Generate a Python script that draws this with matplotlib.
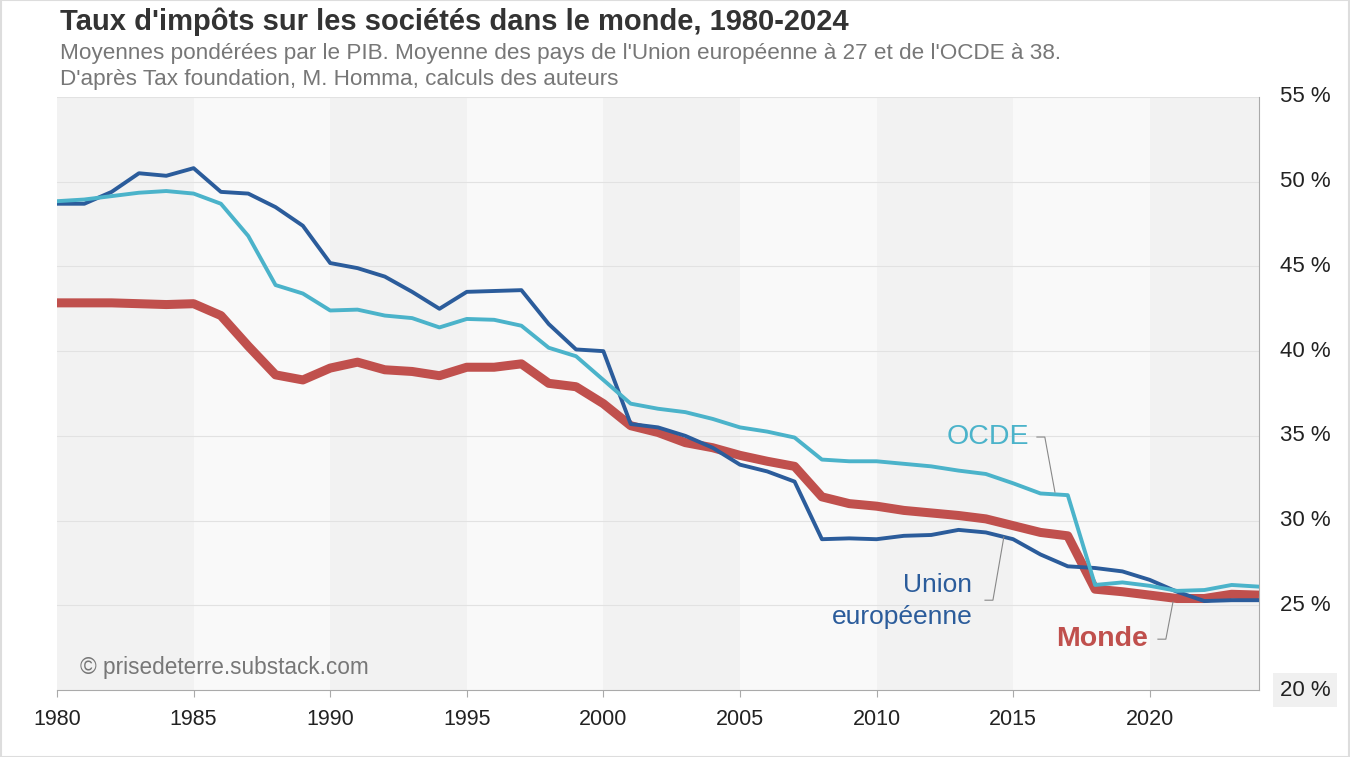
import matplotlib.pyplot as plt
import numpy as np

plt.rcParams['font.family'] = ['Liberation Sans', 'DejaVu Sans']

years = np.arange(1980, 2025)

# taux moyens (%)
ue = [48.7, 48.7, 49.4, 50.5, 50.35, 50.8, 49.4, 49.3, 48.5, 47.4,
      45.2, 44.9, 44.4, 43.5, 42.5, 43.5, 43.55, 43.6, 41.6, 40.1,
      40.0, 35.7, 35.5, 35.0, 34.3, 33.3, 32.9, 32.3, 28.9, 28.95,
      28.9, 29.1, 29.15, 29.45, 29.3, 28.9, 28.0, 27.3, 27.2, 27.0,
      26.5, 25.8, 25.25, 25.3, 25.3]
ocde = [48.85, 48.95, 49.15, 49.35, 49.45, 49.3, 48.7, 46.8, 43.9, 43.4,
        42.4, 42.45, 42.1, 41.95, 41.4, 41.9, 41.85, 41.5, 40.2, 39.7,
        38.3, 36.9, 36.6, 36.4, 36.0, 35.5, 35.25, 34.9, 33.6, 33.5,
        33.5, 33.35, 33.2, 32.95, 32.75, 32.2, 31.6, 31.5, 26.2, 26.35,
        26.15, 25.85, 25.9, 26.2, 26.1]
monde = [42.85, 42.85, 42.85, 42.8, 42.75, 42.8, 42.1, 40.3, 38.6, 38.3,
         39.0, 39.35, 38.9, 38.8, 38.55, 39.05, 39.05, 39.25, 38.1, 37.9,
         36.9, 35.6, 35.2, 34.6, 34.3, 33.85, 33.5, 33.2, 31.4, 31.0,
         30.85, 30.6, 30.45, 30.3, 30.1, 29.7, 29.3, 29.1, 25.95, 25.8,
         25.6, 25.4, 25.4, 25.65, 25.6]

yticks = [20, 25, 30, 35, 40, 45, 50, 55]
xticks = list(range(1980, 2021, 5))

c_ue = '#2b5c9b'
c_ocde = '#4bb3ca'
c_monde = '#c0504d'

fig = plt.figure(figsize=(13.5, 7.57), dpi=100)
ax = fig.add_axes([57/1350, 1-690/757, (1259-57)/1350, (690-97)/757])

# bandes de 5 ans
for i, x0 in enumerate(range(1980, 2024, 5)):
    col = '#f2f2f2' if i % 2 == 0 else '#f9f9f9'
    ax.axvspan(x0, min(x0+5, 2024), color=col, lw=0, zorder=0)

for y in yticks[1:]:
    ax.axhline(y, color='#e2e2e2', lw=0.8, zorder=1)

ax.plot(years, monde, color=c_monde, lw=6.5, solid_joinstyle='round', solid_capstyle='butt', zorder=3)
ax.plot(years, ue, color=c_ue, lw=2.8, solid_joinstyle='round', zorder=4)
ax.plot(years, ocde, color=c_ocde, lw=2.8, solid_joinstyle='round', zorder=5)

ax.set_xlim(1980, 2024)
ax.set_ylim(20, 55)

for s in ['top', 'left']:
    ax.spines[s].set_visible(False)
ax.spines['right'].set_color('#aaaaaa')
ax.spines['bottom'].set_color('#aaaaaa')

ax.set_xticks(xticks)
ax.set_xticklabels([str(x) for x in xticks])
ax.tick_params(axis='x', length=5, color='#aaaaaa', labelsize=15.5, labelcolor='#222222', pad=9)

ax.yaxis.tick_right()
ax.set_yticks(yticks)
ax.set_yticklabels([f'{y} %' for y in yticks])
ax.tick_params(axis='y', length=0, labelsize=16, labelcolor='#222222', pad=15)
for lab in ax.get_yticklabels():
    lab.set_verticalalignment('center')
ax.get_yticklabels()[0].set_bbox(dict(facecolor='#f0f0f0', edgecolor='none', pad=5))

# étiquettes des séries
ax.text(2015.6, 34.93, 'OCDE', color=c_ocde, fontsize=20.5, ha='right', va='center')
ax.plot([2015.87, 2016.16, 2016.53], [34.93, 34.93, 31.68], color='#888888', lw=0.8, zorder=6)

ax.text(2013.5, 25.25, 'Union\neuropéenne', color=c_ue, fontsize=19, ha='right', va='center',
        linespacing=1.4)
ax.plot([2013.97, 2014.26, 2014.66], [25.3, 25.3, 29.03], color='#888888', lw=0.8, zorder=6)

ax.text(2019.95, 23.0, 'Monde', color=c_monde, fontsize=20.5, fontweight='bold', ha='right', va='center')
ax.plot([2020.30, 2020.59, 2020.85], [23.0, 23.0, 25.19], color='#888888', lw=0.8, zorder=6)

ax.text(1980.85, 21.35, '© prisedeterre.substack.com', color='#777777', fontsize=16.3, va='center')

fig.text(60/1350, 1-22/757, "Taux d'impôts sur les sociétés dans le monde, 1980-2024",
         fontsize=21, fontweight='bold', color='#333333', va='center')
fig.text(60/1350, 1-53/757,
         "Moyennes pondérées par le PIB. Moyenne des pays de l'Union européenne à 27 et de l'OCDE à 38.",
         fontsize=16.2, color='#777777', va='center')
fig.text(60/1350, 1-79/757, "D'après Tax foundation, M. Homma, calculs des auteurs",
         fontsize=16.2, color='#777777', va='center')

fig.patches.append(plt.Rectangle((0.0005, 0.0005), 0.999, 0.999, transform=fig.transFigure,
                                 fill=False, edgecolor='#dddddd', lw=1.5))

fig.savefig('out.png', dpi=100)
